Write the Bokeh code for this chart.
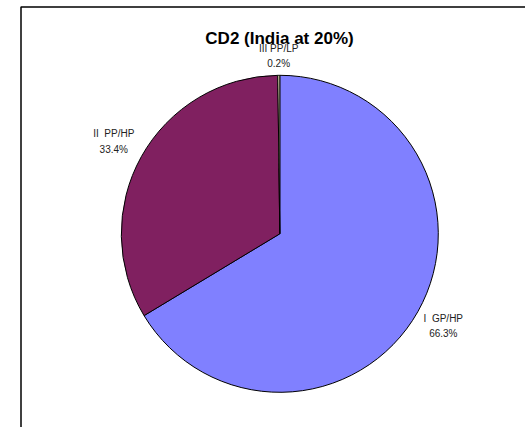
import math
from bokeh.plotting import figure
from bokeh.models import ColumnDataSource
from bokeh.core.properties import value
from bokeh.embed import file_html
from bokeh.resources import INLINE

# Shares of CD2 (India at 20%)
categories = ["I\u00a0\u00a0GP/HP", "II\u00a0\u00a0PP/HP", "III PP/LP"]
shares = [66.3, 33.4, 0.2]
colors = ["#8080FF", "#802060", "#FFFFCC"]

W, H = 525, 427
cx, cy = 279.3, H - 233.3
R = 158.5

total = sum(shares)
starts, ends, mids = [], [], []
a = math.pi / 2
for s in shares:
    sweep = 2 * math.pi * s / total
    starts.append(a)
    ends.append(a - sweep)
    mids.append(a - sweep / 2)
    a -= sweep

p = figure(width=W, height=H, x_range=(0, W), y_range=(0, H),
           output_backend="svg", toolbar_location=None, min_border=0)
p.axis.visible = False
p.grid.visible = False
p.outline_line_color = None
p.background_fill_color = "white"
p.border_fill_color = "white"

# chart area frame (right and bottom edges run past the page)
p.line(x=[20.5, 20.5, W + 20], y=[-20, H - 6.5, H - 6.5], line_color="black", line_width=1.5)

src = ColumnDataSource(dict(start=starts, end=ends, color=colors))
p.wedge(x=cx, y=cy, radius=R, start_angle="end", end_angle="start",
        fill_color="color", line_color="black", line_width=1, source=src)

# data labels placed outside each slice along its mid angle
fs = 10
lx, ly, lt = [], [], []
for cat, s, m in zip(categories, shares, mids):
    txt = f"{cat}\n{s:.1f}%"
    w = max(len(cat), 5) * fs * 0.5
    h = 2 * fs * 1.4
    d = R + 5 + abs(math.cos(m)) * w / 2 + abs(math.sin(m)) * h / 2
    lx.append(cx + d * math.cos(m))
    ly.append(cy + d * math.sin(m))
    lt.append(txt)
p.text(x=lx, y=ly, text=lt, text_font=value("Liberation Sans"), text_font_size=f"{fs}px",
       text_align="center", text_baseline="middle", text_line_height=1.4, text_color="#222222")

p.text(x=[279], y=[H - 38], text=["CD2 (India at 20%)"], text_font=value("Liberation Sans"),
       text_font_size="17px", text_font_style="bold", text_align="center",
       text_baseline="middle", text_color="black")

open("out.html", "w").write(file_html(p, INLINE))
